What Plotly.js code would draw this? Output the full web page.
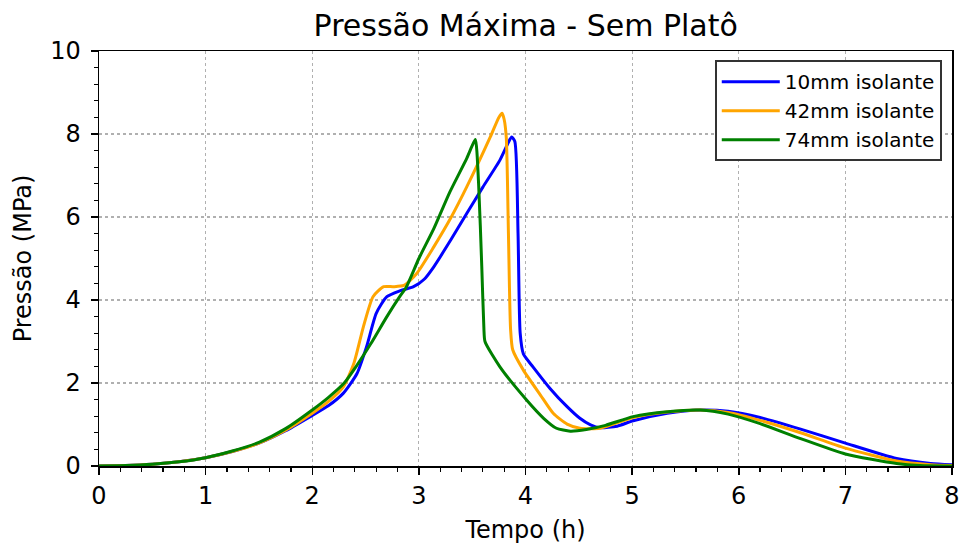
<!DOCTYPE html>
<html>
<head>
<meta charset="utf-8">
<script src="https://cdn.plot.ly/plotly-3.0.1.min.js"></script>
<style>html,body{margin:0;padding:0;background:#fff;}#chart{width:962px;height:546px;}</style>
</head>
<body>
<div id="chart"></div>
<script>
// Time (h) and pressure (MPa)
const t10 = [0, 0.25, 0.5, 0.75, 1.0, 1.25, 1.5, 1.75, 2.0, 2.15, 2.29, 2.42, 2.51, 2.60, 2.70, 2.82, 2.95, 3.05, 3.14, 3.3, 3.45, 3.6, 3.76, 3.84, 3.87, 3.90, 3.93, 3.95, 3.98, 4.07, 4.23, 4.39, 4.51, 4.61, 4.70, 4.86, 5.01, 5.33, 5.64, 5.9, 6.2, 6.58, 7.0, 7.48, 7.8, 8.0];
const p10 = [0, 0.01, 0.04, 0.1, 0.2, 0.35, 0.55, 0.85, 1.22, 1.45, 1.75, 2.23, 2.88, 3.68, 4.08, 4.22, 4.32, 4.5, 4.8, 5.45, 6.09, 6.72, 7.37, 7.8, 7.93, 7.82, 5.6, 3.2, 2.7, 2.39, 1.87, 1.43, 1.15, 0.99, 0.92, 0.96, 1.09, 1.27, 1.35, 1.32, 1.17, 0.89, 0.55, 0.18, 0.06, 0.03];
const t42 = [0, 0.25, 0.5, 0.75, 1.0, 1.25, 1.5, 1.75, 2.0, 2.15, 2.29, 2.39, 2.48, 2.57, 2.67, 2.76, 2.86, 2.98, 3.14, 3.3, 3.45, 3.67, 3.75, 3.78, 3.80, 3.82, 3.84, 3.86, 3.88, 3.98, 4.14, 4.26, 4.39, 4.51, 4.7, 5.01, 5.33, 5.64, 5.9, 6.2, 6.58, 7.0, 7.48, 7.8, 8.0];
const p42 = [0, 0.01, 0.04, 0.1, 0.2, 0.35, 0.55, 0.86, 1.27, 1.55, 1.9, 2.47, 3.36, 4.08, 4.32, 4.32, 4.35, 4.64, 5.28, 5.98, 6.73, 7.93, 8.4, 8.5, 8.35, 7.9, 5.6, 3.3, 2.8, 2.31, 1.71, 1.27, 1.01, 0.91, 0.91, 1.17, 1.3, 1.35, 1.29, 1.1, 0.8, 0.43, 0.12, 0.03, 0.01];
const t74 = [0, 0.25, 0.5, 0.75, 1.0, 1.25, 1.5, 1.75, 2.0, 2.15, 2.3, 2.42, 2.55, 2.7, 2.82, 2.88, 3.0, 3.14, 3.29, 3.45, 3.50, 3.53, 3.56, 3.59, 3.61, 3.62, 3.76, 4.01, 4.17, 4.29, 4.42, 4.57, 4.75, 5.01, 5.33, 5.64, 5.9, 6.2, 6.58, 7.0, 7.48, 7.7, 8.0];
const p74 = [0, 0.01, 0.04, 0.1, 0.2, 0.36, 0.57, 0.9, 1.35, 1.65, 2.0, 2.43, 2.95, 3.6, 4.08, 4.3, 5.0, 5.72, 6.6, 7.42, 7.72, 7.87, 6.81, 4.8, 3.3, 3.0, 2.39, 1.59, 1.15, 0.91, 0.84, 0.88, 0.98, 1.19, 1.31, 1.35, 1.25, 1.02, 0.66, 0.29, 0.06, 0.01, 0.0];
const names = ["10mm isolante", "42mm isolante", "74mm isolante"];
const colors = ["#0000ff", "#ffa500", "#008000"];

const xs = [t10, t42, t74], ys = [p10, p42, p74];
const data = xs.map((x, i) => ({
  x: x, y: ys[i], type: "scatter", mode: "lines", name: names[i],
  line: {color: colors[i], width: 3, shape: "spline", smoothing: 0.6}
}));

const axisCommon = {
  showline: true, linecolor: "#000", linewidth: 1.5, mirror: true,
  ticks: "outside", ticklen: 7, tickwidth: 1.5, tickcolor: "#000",
  showgrid: true, gridcolor: "#b0b0b0", griddash: "dot", gridwidth: 1.2,
  zeroline: false,
  tickfont: {family: "DejaVu Sans", size: 24, color: "#000"}
};

const layout = {
  width: 962, height: 546,
  margin: {l: 99, r: 10, t: 51, b: 80},
  paper_bgcolor: "#fff", plot_bgcolor: "#fff",
  font: {family: "DejaVu Sans", color: "#000"},
  title: {text: "Pressão Máxima - Sem Platô", x: 0.5465, xanchor: "center", y: 0.953, yanchor: "middle",
          font: {family: "DejaVu Sans", size: 30, color: "#000"}},
  xaxis: Object.assign({}, axisCommon, {
    range: [0, 8], dtick: 1, tick0: 0, ticklabelstandoff: 1,
    minor: {tick0: 0, dtick: 0.2, ticks: "outside", ticklen: 4, tickwidth: 1.2, tickcolor: "#000", showgrid: false},
    title: {text: "Tempo (h)", font: {family: "DejaVu Sans", size: 24, color: "#000"}, standoff: 12}
  }),
  yaxis: Object.assign({}, axisCommon, {
    range: [0, 10], dtick: 2, tick0: 0, ticklabelstandoff: 5,
    minor: {tick0: 0, dtick: 0.4, ticks: "outside", ticklen: 4, tickwidth: 1.2, tickcolor: "#000", showgrid: false},
    title: {text: "Pressão (MPa)", font: {family: "DejaVu Sans", size: 24, color: "#000"}, standoff: 12}
  }),
  legend: {
    x: 0.988, xanchor: "right", y: 0.978, yanchor: "top",
    bgcolor: "#fff", bordercolor: "#333", borderwidth: 2,
    font: {family: "DejaVu Sans", size: 20, color: "#000"},
    itemwidth: 58, tracegroupgap: 0
  },
  showlegend: true
};

Plotly.newPlot("chart", data, layout, {displayModeBar: false, staticPlot: true});
</script>
</body>
</html>
